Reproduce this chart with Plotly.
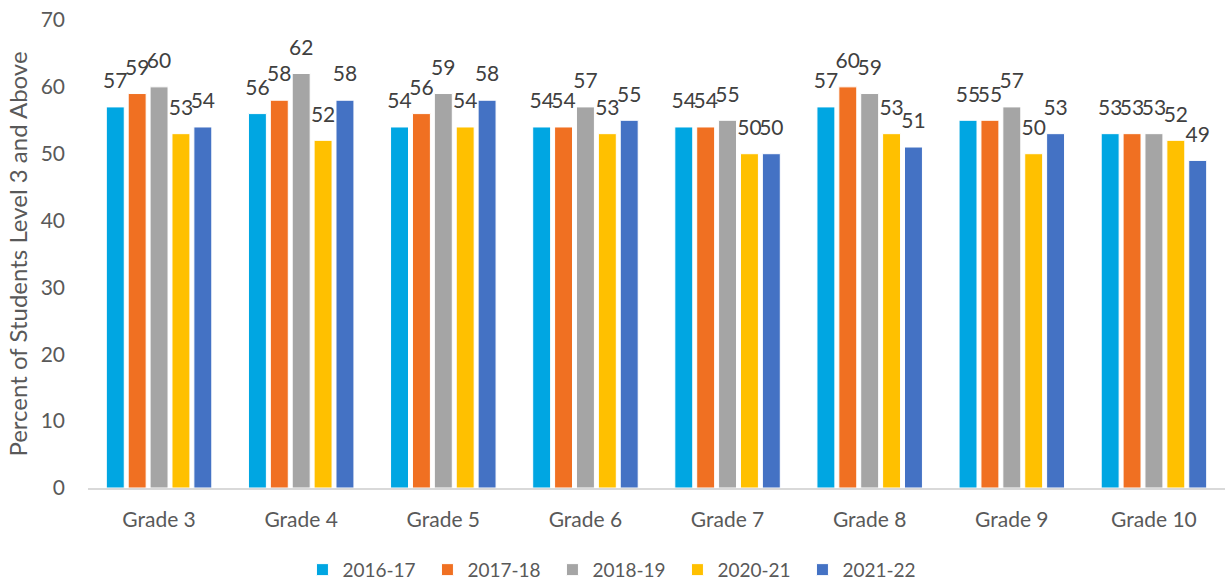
import plotly.graph_objects as go

grades = ["Grade 3", "Grade 4", "Grade 5", "Grade 6", "Grade 7", "Grade 8", "Grade 9", "Grade 10"]
years = ["2016-17", "2017-18", "2018-19", "2020-21", "2021-22"]

pct_2016_17 = [57, 56, 54, 54, 54, 57, 55, 53]
pct_2017_18 = [59, 58, 56, 54, 54, 60, 55, 53]
pct_2018_19 = [60, 62, 59, 57, 55, 59, 57, 53]
pct_2020_21 = [53, 52, 54, 53, 50, 53, 50, 52]
pct_2021_22 = [54, 58, 58, 55, 50, 51, 53, 49]

series = [pct_2016_17, pct_2017_18, pct_2018_19, pct_2020_21, pct_2021_22]
colors = ["#00A6E2", "#F07022", "#A5A5A5", "#FFC000", "#4472C4"]

FONT = "Lato, Carlito, Calibri, sans-serif"
TXT = "#595959"
GAP = 0.23

fig = go.Figure()
for name, vals, col in zip(years, series, colors):
    fig.add_trace(go.Bar(
        x=grades, y=vals, name=name,
        marker=dict(color=col, line=dict(color="white", width=1)),
        hoverinfo="x+y+name",
    ))

# value labels: grouped scatter text sitting a little above each bar
for name, vals in zip(years, series):
    fig.add_trace(go.Scatter(
        x=grades, y=vals, mode="markers+text", showlegend=False,
        text=[str(v) for v in vals], textposition="top center",
        textfont=dict(family=FONT, size=21, color="#404040"),
        marker=dict(size=20, color="rgba(0,0,0,0)"),
        cliponaxis=False, hoverinfo="skip", name=name,
    ))

fig.update_layout(
    width=1225, height=582,
    margin=dict(l=88, r=0, t=20, b=94, autoexpand=False),
    paper_bgcolor="white", plot_bgcolor="white",
    barmode="group", bargap=GAP, bargroupgap=0.18,
    scattermode="group", scattergap=GAP,
    font=dict(family=FONT, color=TXT),
    showlegend=True,
    legend=dict(orientation="h", x=0.502, xref="container", xanchor="center",
                y=0.021, yref="container", yanchor="middle",
                font=dict(family=FONT, size=19, color=TXT), traceorder="normal",
                itemwidth=30, entrywidth=80, entrywidthmode="pixels"),
    xaxis=dict(showgrid=False, showline=True, linecolor="#D9D9D9", linewidth=1.5,
               ticks="", tickfont=dict(family=FONT, size=21, color=TXT),
               ticklabelstandoff=12),
    yaxis=dict(range=[0, 70], dtick=10, showgrid=False, zeroline=False, showline=False,
               ticks="", tickfont=dict(family=FONT, size=21, color=TXT),
               ticklabelstandoff=22,
               title=dict(text="Percent of Students Level 3 and Above",
                          font=dict(family=FONT, size=24, color=TXT), standoff=6)),
)

fig.write_html("out.html")
